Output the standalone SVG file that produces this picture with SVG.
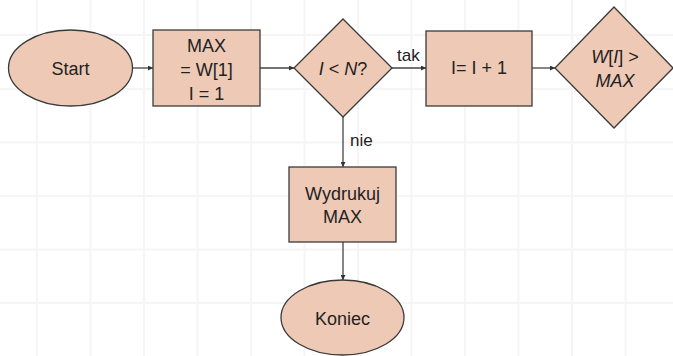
<svg xmlns="http://www.w3.org/2000/svg" width="673" height="356" viewBox="0 0 673 356">
  <style>
    .grid line { stroke: #f5f5f5; stroke-width: 2; }
    .node { fill: #eecab6; stroke: #3a3a3a; stroke-width: 1.3; }
    .label { font-family: "Liberation Sans", "DejaVu Sans", sans-serif; font-size: 18px; fill: #222; text-anchor: middle; }
    .small { font-family: "Liberation Sans", "DejaVu Sans", sans-serif; font-size: 17px; fill: #222; }
    .conn { stroke: #444; stroke-width: 1.3; fill: none; marker-end: url(#arrow); }
    .it { font-style: italic; }
  </style>
  <defs>
    <marker id="arrow" viewBox="0 0 6 6" refX="6" refY="3" markerWidth="5" markerHeight="5" markerUnits="userSpaceOnUse" orient="auto">
      <path d="M0,0 L6,3 L0,6 Z" fill="#333"/>
    </marker>
  </defs>

  <rect width="673" height="356" fill="#ffffff"/>

  <!-- background grid -->
  <g class="grid">
    <line x1="37" y1="0" x2="37" y2="356"/>
    <line x1="90.5" y1="0" x2="90.5" y2="356"/>
    <line x1="144" y1="0" x2="144" y2="356"/>
    <line x1="197.5" y1="0" x2="197.5" y2="356"/>
    <line x1="251" y1="0" x2="251" y2="356"/>
    <line x1="304.5" y1="0" x2="304.5" y2="356"/>
    <line x1="358" y1="0" x2="358" y2="356"/>
    <line x1="411.5" y1="0" x2="411.5" y2="356"/>
    <line x1="465" y1="0" x2="465" y2="356"/>
    <line x1="518.5" y1="0" x2="518.5" y2="356"/>
    <line x1="572" y1="0" x2="572" y2="356"/>
    <line x1="625.5" y1="0" x2="625.5" y2="356"/>
    <line x1="0" y1="35" x2="673" y2="35"/>
    <line x1="0" y1="89" x2="673" y2="89"/>
    <line x1="0" y1="142.5" x2="673" y2="142.5"/>
    <line x1="0" y1="196" x2="673" y2="196"/>
    <line x1="0" y1="249.5" x2="673" y2="249.5"/>
    <line x1="0" y1="303" x2="673" y2="303"/>
  </g>

  <!-- connectors -->
  <g id="connectors">
    <line class="conn" x1="133" y1="68" x2="153" y2="68"/>
    <line class="conn" x1="260" y1="68" x2="294" y2="68"/>
    <line class="conn" x1="392" y1="68" x2="426" y2="68"/>
    <line class="conn" x1="532" y1="68" x2="555" y2="68"/>
    <line class="conn" x1="343" y1="117" x2="343" y2="167"/>
    <line class="conn" x1="343" y1="242" x2="343" y2="280"/>
    <text class="small" x="397" y="61">tak</text>
    <text class="small" x="350" y="146">nie</text>
  </g>

  <g id="start">
    <ellipse class="node" cx="70.5" cy="68" rx="62" ry="38"/>
    <text class="label" x="70.5" y="75">Start</text>
  </g>

  <g id="init">
    <rect class="node" x="153" y="30" width="107" height="76"/>
    <text class="label" x="206.5" y="51.5">MAX</text>
    <text class="label" x="206.5" y="76">= W[1]</text>
    <text class="label" x="206.5" y="100">I = 1</text>
  </g>

  <g id="cond-loop">
    <polygon class="node" points="343,19 392,68 343,117 294,68"/>
    <text class="label" x="343" y="75"><tspan class="it">I</tspan> &lt; <tspan class="it">N</tspan>?</text>
  </g>

  <g id="increment">
    <rect class="node" x="426" y="31" width="106" height="75"/>
    <text class="label" x="479" y="74">I= I + 1</text>
  </g>

  <g id="cond-max">
    <polygon class="node" points="614,7 673,68 614,128 555,68"/>
    <text class="label" x="615" y="63"><tspan class="it">W</tspan>[<tspan class="it">I</tspan>] &gt;</text>
    <text class="label it" x="615" y="87">MAX</text>
  </g>

  <g id="print">
    <rect class="node" x="289" y="167" width="107" height="75"/>
    <text class="label" x="342.5" y="200">Wydrukuj</text>
    <text class="label" x="342.5" y="223">MAX</text>
  </g>

  <g id="end">
    <ellipse class="node" cx="342.5" cy="317.5" rx="61.5" ry="37.5"/>
    <text class="label" x="342.5" y="325">Koniec</text>
  </g>
</svg>
